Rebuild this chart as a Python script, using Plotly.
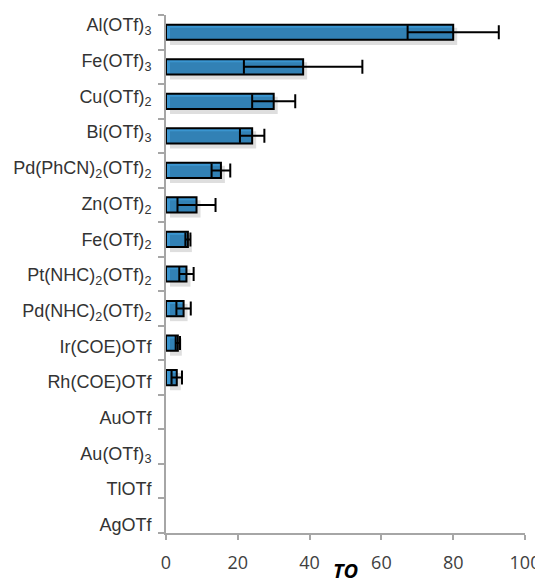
import plotly.graph_objects as go

catalysts = [
    "Al(OTf)<sub>3</sub>", "Fe(OTf)<sub>3</sub>", "Cu(OTf)<sub>2</sub>", "Bi(OTf)<sub>3</sub>",
    "Pd(PhCN)<sub>2</sub>(OTf)<sub>2</sub>", "Zn(OTf)<sub>2</sub>", "Fe(OTf)<sub>2</sub>",
    "Pt(NHC)<sub>2</sub>(OTf)<sub>2</sub>", "Pd(NHC)<sub>2</sub>(OTf)<sub>2</sub>",
    "Ir(COE)OTf", "Rh(COE)OTf", "AuOTf", "Au(OTf)<sub>3</sub>", "TlOTf", "AgOTf",
]
to_values = [80.0, 38.2, 30.0, 24.0, 15.3, 8.5, 6.1, 5.7, 4.9, 3.3, 3.0, 0, 0, 0, 0]
to_errors = [12.7, 16.5, 6.0, 3.4, 2.6, 5.3, 0.7, 2.0, 2.0, 0.6, 1.45, 0, 0, 0, 0]
x_ticks = [0, 20, 40, 60, 80, 100]

idx = list(range(len(catalysts)))
BLUE = "#3a95d0"
GRAY = "#a6a6a6"
TXT = "#333333"

# the page body adds an 8px offset; figure fills the rest of the window
OFF = 8
W, H = 543 - OFF, 584 - OFF
PL, PR, PT, PB = 166, 525, 15, 533  # plot edges in window pixels

# zero-valued catalysts draw no bar at all
bar_x = [v if v > 0 else None for v in to_values]
bar_err = [e if v > 0 else None for v, e in zip(to_values, to_errors)]

fig = go.Figure()

fig.add_trace(go.Bar(
    x=bar_x, y=idx, orientation="h", xaxis="x2", yaxis="y3",
    marker=dict(color="rgba(0,0,0,0.13)", line=dict(width=0)),
    width=0.5, hoverinfo="skip", showlegend=False,
))

fig.add_trace(go.Bar(
    x=bar_x, y=idx, orientation="h", xaxis="x", yaxis="y",
    marker=dict(color=BLUE, line=dict(color="black", width=2)),
    width=0.44,
    error_x=dict(type="data", array=bar_err, visible=True, color="black",
                 thickness=2, width=7),
    showlegend=False,
))

fig.add_trace(go.Scatter(
    x=[0] * len(idx), y=idx, xaxis="x", yaxis="y2", mode="markers",
    marker=dict(size=0, opacity=0), hoverinfo="skip", showlegend=False,
))

n = len(catalysts)
px_per_cat = (PB - PT) / n
shift_cat = 4 / px_per_cat
x_px_per_unit = (PR - PL) / 100
shift_x = 4 / x_px_per_unit
lab_top, lab_step = 25, 35.7

fig.update_layout(
    width=W, height=H,
    margin=dict(l=PL - OFF, r=543 - PR, t=PT - OFF, b=584 - PB, autoexpand=False),
    plot_bgcolor="white", paper_bgcolor="white",
    font=dict(family="Liberation Sans, Arial, sans-serif", color=TXT),
    xaxis=dict(
        range=[0, 100], tickvals=x_ticks, showgrid=False, zeroline=False,
        showline=True, linecolor=GRAY, linewidth=2,
        ticks="outside", ticklen=5, tickcolor=GRAY, tickwidth=2,
        ticklabelstandoff=7,
        tickfont=dict(family="Open Sans, Noto Sans, sans-serif", size=18, color="#404040"),
        title=dict(text="<b><i>TO</i></b>", font=dict(family="Open Sans, sans-serif", size=20, color="black"), standoff=6),
        fixedrange=True,
    ),
    xaxis2=dict(range=[-shift_x, 100 - shift_x], overlaying="x", visible=False, fixedrange=True),
    yaxis=dict(
        range=[n - 0.5, -0.5], showgrid=False, zeroline=False,
        showline=True, linecolor=GRAY, linewidth=2,
        ticks="outside", ticklen=6, tickcolor=GRAY, tickwidth=2,
        tickvals=[i - 0.5 for i in range(n + 1)], showticklabels=False,
        fixedrange=True,
    ),
    yaxis2=dict(
        overlaying="y", side="left",
        range=[(PB - lab_top) / lab_step, (PT - lab_top) / lab_step],
        tickvals=idx, ticktext=catalysts, showgrid=False, zeroline=False, showline=False,
        ticks="outside", ticklen=10, tickcolor="rgba(0,0,0,0)",
        tickfont=dict(size=18, color=TXT), fixedrange=True,
    ),
    yaxis3=dict(overlaying="y", visible=False,
                range=[n - 0.5 - shift_cat, -0.5 - shift_cat], fixedrange=True),
)

fig.write_html("out.html")
